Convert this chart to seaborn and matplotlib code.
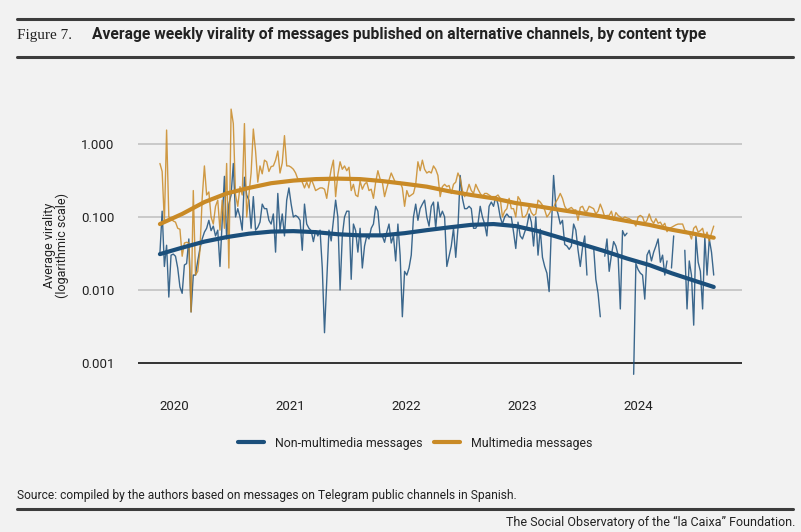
import numpy as np
import pandas as pd
import seaborn as sns
import matplotlib
matplotlib.use("Agg")
import matplotlib.pyplot as plt
from matplotlib.lines import Line2D

# weekly average virality (NaN = no data that week)
start_week = "2019-11-18"
nan = np.nan

multimedia = [
    0.54, 0.42, 0.085, 1.55, 0.10, 0.095, 0.088, 0.085, 0.07, 0.068,
    0.029, 0.044, 0.045, 0.044, 0.005, 0.23, 0.016, 0.018, 0.035, 0.18,
    0.5, 0.2, 0.22, 0.1, 0.08, 0.14, 0.17, 0.066, 0.17, 0.07,
    0.54, 0.02, 3.0, 1.9, 0.2, 0.14, 0.26, 0.2, 1.9, 0.1,
    0.2, 0.4, 1.6, 0.8, 0.3, 0.5, 0.39, 0.6, 0.57, 0.42,
    0.49, 0.5, 0.6, 0.8, 0.4, 0.55, 1.3, 0.5, 0.5, 0.48,
    0.45, 0.4, 0.33, 0.33, 0.3, 0.25, 0.3, 0.25, 0.33, 0.28,
    0.23, 0.24, 0.25, 0.25, 0.24, 0.18, 0.3, 0.45, 0.6, 0.19,
    0.38, 0.57, 0.45, 0.5, 0.43, 0.48, 0.23, 0.28, 0.2, 0.19,
    0.31, 0.24, 0.28, 0.3, 0.23, 0.24, 0.18, 0.3, 0.43, 0.33,
    0.3, 0.19, 0.25, 0.32, 0.4, 0.34, 0.29, 0.29, 0.3, 0.25,
    0.14, 0.23, 0.19, 0.2, 0.21, 0.28, 0.57, 0.43, 0.6, 0.45,
    0.4, 0.42, 0.4, 0.5, 0.45, 0.37, 0.19, 0.26, 0.28, 0.26,
    0.27, 0.21, 0.28, 0.3, 0.4, 0.34, 0.23, 0.19, 0.22, 0.28,
    0.23, 0.21, 0.28, 0.24, 0.21, 0.19, 0.21, 0.21, 0.2, 0.19,
    0.19, 0.19, 0.2, 0.18, 0.1, 0.12, 0.13, 0.18, 0.13, 0.13,
    0.1, 0.19, 0.17, 0.1, 0.1, 0.11, 0.14, 0.115, 0.105, 0.11,
    0.17, 0.16, 0.145, 0.125, 0.1, 0.11, 0.125, 0.135, 0.16, 0.18,
    0.21, 0.18, 0.14, 0.125, 0.13, 0.135, 0.125, 0.125, 0.09, 0.135,
    0.14, 0.12, 0.12, 0.14, 0.135, 0.13, 0.11, 0.12, 0.15, 0.125,
    0.1, 0.105, 0.105, 0.12, 0.09, 0.115, 0.105, 0.1, 0.095, 0.1,
    0.097, 0.095, 0.09, 0.085, 0.075, 0.1, 0.105, 0.1, 0.082, 0.09,
    0.11, 0.09, 0.082, 0.095, 0.082, 0.085, 0.075, 0.082, 0.063, 0.07,
    0.072, 0.075, 0.078, 0.08, 0.08, 0.08, 0.066, 0.063, 0.06, 0.05,
    0.07, 0.075, 0.062, 0.065, 0.07, 0.052, 0.062, 0.047, 0.06, 0.075,
]

non_multimedia = [
    0.032, 0.12, 0.021, 0.041, 0.008, 0.03, 0.031, 0.029, 0.02, 0.011,
    0.009, 0.022, 0.023, 0.05, 0.005, 0.016, 0.016, 0.025, 0.037, 0.05,
    0.062, 0.07, 0.09, 0.065, 0.075, 0.055, 0.066, 0.021, 0.09, 0.36,
    0.05, 0.15, 0.2, 0.54, 0.1, 0.13, 0.1, 0.066, 0.35, 0.2,
    0.17, 0.07, 0.19, 0.066, 0.072, 0.085, 0.15, 0.13, 0.13, 0.09,
    0.08, 0.11, 0.033, 0.21, 0.066, 0.11, 0.055, 0.17, 0.25, 0.15,
    0.1, 0.105, 0.1, 0.09, 0.035, 0.15, 0.08, 0.07, 0.065, 0.046,
    0.065, 0.055, 0.066, 0.02, 0.0026, 0.013, 0.066, 0.047, 0.09, 0.17,
    0.1, 0.01, 0.055, 0.1, 0.12, 0.12, 0.014, 0.08, 0.065, 0.033,
    0.07, 0.02, 0.04, 0.055, 0.05, 0.07, 0.08, 0.14, 0.12, 0.055,
    0.055, 0.045, 0.062, 0.08, 0.044, 0.055, 0.025, 0.08, 0.03, 0.0043,
    0.018, 0.016, 0.02, 0.03, 0.1, 0.15, 0.09, 0.13, 0.15, 0.17,
    0.1, 0.075, 0.14, 0.16, 0.07, 0.16, 0.1, 0.12, 0.1, 0.021,
    0.029, 0.04, 0.07, 0.028, 0.07, 0.37, 0.18, 0.13, 0.13, 0.14,
    0.13, 0.07, 0.07, 0.08, 0.14, 0.1, 0.08, 0.055, 0.14, 0.16,
    0.14, 0.19, 0.15, 0.1, 0.08, 0.1, 0.11, 0.1, 0.1, 0.062,
    0.037, 0.085, 0.055, 0.05, 0.062, 0.075, 0.11, 0.085, 0.04, 0.1,
    0.03, 0.068, 0.028, 0.021, 0.017, 0.0095, 0.07, 0.37, 0.14, 0.11,
    0.08, 0.09, 0.042, 0.04, 0.036, 0.04, 0.08, 0.066, 0.035, 0.021,
    0.038, 0.055, 0.016, nan, nan, 0.039, 0.014, 0.009, 0.0043, nan,
    0.029, 0.05, 0.018, 0.03, 0.046, 0.04, 0.03, 0.0055, 0.065, 0.055,
    0.06, nan, nan, 0.0007, 0.023, 0.019, 0.017, 0.016, 0.0075, 0.03,
    0.035, 0.025, 0.033, 0.04, 0.05, 0.024, 0.03, 0.016, 0.025, nan,
    0.02, 0.055, nan, nan, nan, nan, 0.035, 0.0055, 0.025, 0.016,
    0.0033, 0.055, 0.024, 0.018, 0.0055, 0.053, 0.016, 0.05, 0.033, 0.016,
]

# smoothed trends, read at every 10th week (last point = last week)
trend_week = [0, 10, 20, 30, 40, 50, 60, 70, 80, 90, 100, 110, 120,
              130, 140, 150, 160, 170, 180, 190, 200, 210, 220, 230, 240, 249]
trend_multimedia = [0.08, 0.11, 0.16, 0.21, 0.25, 0.29, 0.315, 0.33, 0.335,
                    0.33, 0.31, 0.285, 0.26, 0.225, 0.2, 0.18, 0.155, 0.14,
                    0.125, 0.112, 0.1, 0.088, 0.078, 0.067, 0.059, 0.052]
trend_non_multimedia = [0.031, 0.038, 0.046, 0.053, 0.059, 0.063, 0.064,
                        0.062, 0.058, 0.056, 0.056, 0.06, 0.066, 0.072,
                        0.078, 0.08, 0.075, 0.064, 0.052, 0.042, 0.034,
                        0.027, 0.022, 0.017, 0.0135, 0.011]

series_labels = ["Non-multimedia messages", "Multimedia messages"]
years = [2020, 2021, 2022, 2023, 2024]
ytick_values = [1.0, 0.1, 0.01, 0.001]
ytick_labels = ["1.000", "0.100", "0.010", "0.001"]

BG = "#f2f2f2"
BLUE = "#1b4f7b"
ORANGE = "#c98a26"
INK = "#222222"
RULE = "#3c3c3c"

weeks = pd.date_range(start_week, periods=len(multimedia), freq="7D")


def weekly_frame(values):
    df = pd.DataFrame({"date": weeks, "value": values})
    # a new segment starts after each missing week so gaps stay open
    df["seg"] = df["value"].isna().cumsum()
    return df.dropna()


df_blue = weekly_frame(non_multimedia)
df_orange = weekly_frame(multimedia)
df_trend = pd.DataFrame({
    "date": weeks[trend_week],
    "multimedia": trend_multimedia,
    "non_multimedia": trend_non_multimedia,
})

sns.set_theme(style="white")
plt.rcParams["font.family"] = ["Liberation Sans Narrow", "Roboto", "DejaVu Sans"]

fig = plt.figure(figsize=(8.01, 5.32), dpi=100, facecolor=BG)
ax = fig.add_axes([138 / 801, 1 - 379.2 / 532, 604 / 801, 279.2 / 532])
ax.set_facecolor(BG)

sns.lineplot(data=df_blue, x="date", y="value", units="seg", estimator=None,
             color=BLUE, lw=1.0, alpha=0.85, ax=ax, legend=False)
sns.lineplot(data=df_orange, x="date", y="value", units="seg", estimator=None,
             color=ORANGE, lw=1.0, alpha=0.85, ax=ax, legend=False)
sns.lineplot(data=df_trend, x="date", y="multimedia", color=ORANGE, lw=3.0,
             ax=ax, legend=False)
sns.lineplot(data=df_trend, x="date", y="non_multimedia", color=BLUE, lw=3.0,
             ax=ax, legend=False)

ax.set_yscale("log")
ax.set_ylim(0.0006, 4)
ax.set_xlim(pd.Timestamp("2019-09-10"), pd.Timestamp("2024-11-23"))
ax.set_yticks(ytick_values)
ax.set_yticklabels(ytick_labels)
ax.yaxis.set_minor_locator(matplotlib.ticker.NullLocator())
ax.set_xticks([pd.Timestamp(f"{y}-01-01") for y in years])
ax.set_xticklabels([str(y) for y in years])
ax.set_xlabel("")
ax.set_ylabel("")
ax.tick_params(axis="both", length=0, labelsize=9.5, colors=INK)
ax.tick_params(axis="x", pad=15)
ax.tick_params(axis="y", pad=17)

ax.grid(False)
ax.yaxis.grid(True, color="#c2c2c2", lw=1.2)
ax.axhline(0.001, color="#333333", lw=1.4, zorder=0.9)
for s in ax.spines.values():
    s.set_visible(False)
ax.set_axisbelow(True)

fig.text(56 / 801, 1 - 245 / 532, "Average virality\n(logarithmic scale)",
         rotation=90, ha="center", va="center", fontsize=9, color=INK,
         linespacing=1.05)

handles = [Line2D([], [], color=BLUE, lw=3), Line2D([], [], color=ORANGE, lw=3)]
fig.legend(handles, series_labels, loc="center", ncol=2, frameon=False,
           bbox_to_anchor=(415 / 801, 1 - 443 / 532), fontsize=8.9,
           handlelength=2.1, handletextpad=0.9, columnspacing=0.9,
           labelcolor=INK)

# header and footer
for yy in (19, 57, 509):
    fig.add_artist(Line2D([17 / 801, 793 / 801], [1 - yy / 532, 1 - yy / 532],
                          color=RULE, lw=2.2))
fig.text(17 / 801, 1 - 35 / 532, "Figure 7.", ha="left", va="center",
         fontsize=11, color=INK, family=["Liberation Serif", "DejaVu Serif"])
fig.text(92 / 801, 1 - 35 / 532,
         "Average weekly virality of messages published on alternative channels, by content type",
         ha="left", va="center", fontsize=11.25, fontweight="bold", color=INK)
fig.text(17 / 801, 1 - 496 / 532,
         "Source: compiled by the authors based on messages on Telegram public channels in Spanish.",
         ha="left", va="center", fontsize=8.65, color=INK)
fig.text(795 / 801, 1 - 522 / 532,
         "The Social Observatory of the \u201cla Caixa\u201d Foundation.",
         ha="right", va="center", fontsize=9, color=INK)

fig.savefig("out.png", dpi=100, facecolor=BG)
